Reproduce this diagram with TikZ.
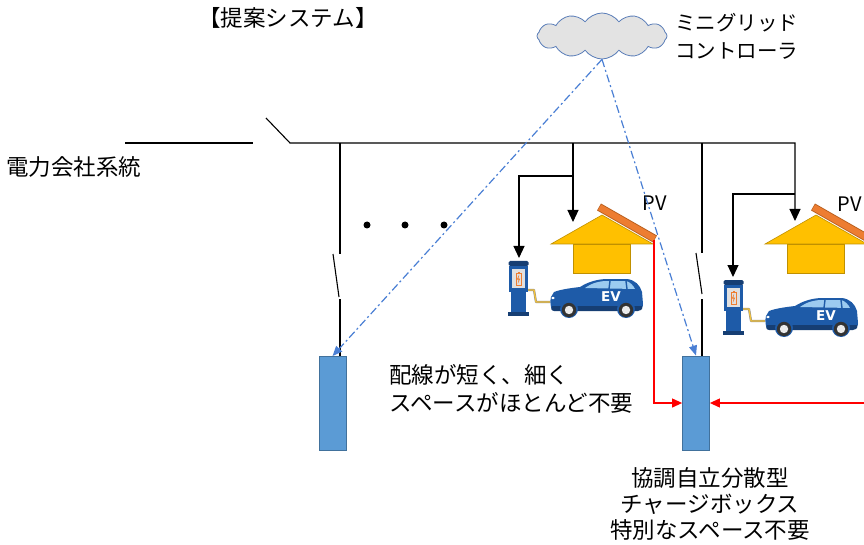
\documentclass[tikz,border=0pt]{standalone}
\usepackage{fontspec}
\setmainfont{Noto Sans CJK JP}
\newfontfamily\evfont{DejaVu Sans}
\usepackage{tikz}
\usetikzlibrary{arrows.meta,shapes.symbols}

\definecolor{boxblue}{HTML}{5B9BD5}
\definecolor{boxedge}{HTML}{41719C}
\definecolor{linkblue}{HTML}{4A7FD4}
\definecolor{roofyellow}{HTML}{FFC000}
\definecolor{roofedge}{HTML}{C09000}
\definecolor{pvorange}{HTML}{ED7D31}
\definecolor{pvedge}{HTML}{B85F1E}
\definecolor{carblue}{HTML}{1E5BA8}
\definecolor{cardark}{HTML}{163E73}
\definecolor{glass}{HTML}{9CCBF0}
\definecolor{cloudgray}{HTML}{E3E3E3}
\definecolor{cloudedge}{HTML}{5A7DB8}
\definecolor{cableyellow}{HTML}{F3C23A}

\tikzset{
  wire/.style={line width=1.1pt},
  feed/.style={wire,-{Triangle[width=11pt,length=12pt]}},
  ctrl/.style={linkblue,line width=1.2pt,dash pattern=on 8pt off 3pt on 2pt off 3pt,
               -{Triangle[width=8pt,length=10pt]}},
  power/.style={red,line width=1.1pt,-{Triangle[width=9pt,length=10pt]}},
  cbox/.style={draw=boxedge,fill=boxblue,line width=0.8pt,minimum width=27pt,
               minimum height=94pt,inner sep=0pt},
  lbl/.style={font=\fontsize{22.5}{28}\selectfont,inner sep=0pt}
}

% house with a PV panel on the right roof slope, origin = left eave
\def\house(#1,#2){%
  \begin{scope}[shift={(#1,#2)}]
    \draw[roofedge,fill=roofyellow,line width=0.6pt] (22,0) rectangle (79,29);
    \draw[roofedge,fill=roofyellow,line width=0.6pt] (0,0) -- (51,-29) -- (102,0) -- cycle;
    \draw[pvedge,line width=8pt] (48,-37) -- (104,-5);
    \draw[pvorange,line width=6.2pt] (48.6,-36.7) -- (103.4,-5.3);
  \end{scope}}

% charger pillar, cable and EV, origin = top left of the charger
\def\evset(#1,#2){%
  \begin{scope}[shift={(#1,#2)}]
    % charger
    \fill[cardark,rounded corners=1.5pt] (0.5,0) rectangle (20.5,5);
    \fill[carblue] (1,5) rectangle (20,31);
    \fill[black!12] (4,8) rectangle (17,27);
    \draw[pvorange,line width=0.8pt] (8,12) rectangle (13,24);
    \fill[pvorange] (9.5,10.5) rectangle (11.5,12);
    \fill[pvorange] (11.2,13.5) -- (8.8,18.5) -- (10.6,18.5) -- (9.8,23) -- (12.2,17.5) -- (10.4,17.5) -- cycle;
    \fill[carblue] (3,31) rectangle (18,52);
    \fill[cardark] (0,51) rectangle (21,55);
    % cable
    \draw[black!45,line width=2.2pt,line join=round] (20,29) -- (26,29) -- (28,41) -- (42,41);
    \draw[cableyellow,line width=1.3pt,line join=round] (20,29) -- (26,29) -- (28,41) -- (42,41);
    % car
    \begin{scope}[shift={(42,18)}]
      \fill[carblue] (3,31) .. controls (0,30) and (0,21) .. (1,18) -- (4,13)
        .. controls (12,10) and (22,9) .. (30,8)
        .. controls (38,3) and (47,0) .. (58,0) -- (77,0)
        .. controls (85,1) and (90,6) .. (92,13) -- (93,25)
        .. controls (93,29) and (91,31) .. (88,31) -- cycle;
      \fill[cardark] (2,27) -- (92,27) -- (92,30) .. controls (91,31) .. (88,32) -- (4,32) .. controls (1,31) .. (2,27) -- cycle;
      \fill[glass] (35,9) .. controls (42,4) and (49,2) .. (57,2) -- (76,2)
        .. controls (80,3) and (83,6) .. (85,10) -- cycle;
      \draw[carblue,line width=1.4pt] (60,2) -- (59,10) (76,2) -- (77,10);
      \fill[white] (3,19) ellipse (1.8 and 1.3);
      \foreach \wx in {19,76}{
        \fill[carblue] (\wx,30) circle (9);
        \fill[black!80] (\wx,31) circle (7.2);
        \fill[black!8] (\wx,31) circle (4.2);
      }
      \node[white,font=\evfont\bfseries\fontsize{13.5}{13.5}\selectfont,inner sep=0pt] at (61,18) {EV};
    \end{scope}
  \end{scope}}

\begin{document}
\begin{tikzpicture}[x=1pt,y=-1pt]
  \useasboundingbox (0,0) rectangle (864,545);
  \clip (0,0) rectangle (864,545);
  %%%%% START %%%%%
  \node[lbl] (title) at (288,18) {【提案システム】};
  \node[lbl,anchor=west] (grid) at (6,167) {電力会社系統};

  % controller
  \node[cloud,cloud puffs=12,cloud puff arc=110,aspect=2.9,draw=cloudedge,fill=cloudgray,
        line width=0.8pt,minimum width=130pt,minimum height=46pt,inner sep=0pt] (mgc) at (602,36) {};
  \node[lbl,font=\fontsize{20.5}{28}\selectfont,align=left,anchor=west] (mgctxt) at (675,36)
    {ミニグリッド\\コントローラ};

  % houses, chargers, cars
  \house(551,244)
  \house(765,244)
  \evset(508,261)
  \evset(723,280)
  \node[font=\fontsize{20}{24}\selectfont,inner sep=0pt] (pv1lbl) at (655,203) {PV};
  \node[font=\fontsize{20}{24}\selectfont,inner sep=0pt] (pv2lbl) at (850,204) {PV};

  % charge boxes
  \node[cbox] (box1) at (332.5,403.5) {};
  \node[cbox] (box2) at (696,403) {};

  \coordinate (h1in) at (573,222);
  \coordinate (h2in) at (795,221);
  \coordinate (c1in) at (519,258);
  \coordinate (c2in) at (733,277);
  \coordinate (pv1) at (654,240);
  \coordinate (gridR) at (866,403);

  % grid line, main switch and bus
  \draw[wire] (125,143) -- (253,143);
  \draw[feed] (266,118) -- (290,143) -- (795,143) -- (h2in);
  \draw[feed] (573,143) -- (h1in);
  \draw[feed] (573,176) -- (519,176) -- (c1in);
  \draw[feed] (795,194) -- (733,194) -- (c2in);

  % feeders with switches
  \draw[wire] (340,143) -- (340,254);
  \draw[wire] (333,254) -- (339,297);
  \draw[wire] (340,299) -- (340,0 |- box1.north);
  \draw[wire] (702,143) -- (702,253);
  \draw[wire] (696,253) -- (702,294);
  \draw[wire] (702,299) -- (702,0 |- box2.north);

  \foreach \dx in {367,405,444}
    \fill (\dx,225) circle (3.5);

  % control links
  \draw[ctrl] (mgc.south) -- (box1.north);
  \draw[ctrl] (mgc.south) -- (box2.north);

  % PV power to the box
  \draw[power] (pv1) -- (654,403) -- (box2.west);
  \draw[power] (gridR) -- (box2.east);

  \node[lbl,align=left,anchor=west] (note) at (389,389)
    {配線が短く、細く\\スペースがほとんど不要};
  \node[lbl,align=center,font=\fontsize{22.5}{26}\selectfont] (cbtxt) at (710,504)
    {協調自立分散型\\チャージボックス\\特別なスペース不要};
  %%%%% END %%%%%
\end{tikzpicture}
\end{document}
